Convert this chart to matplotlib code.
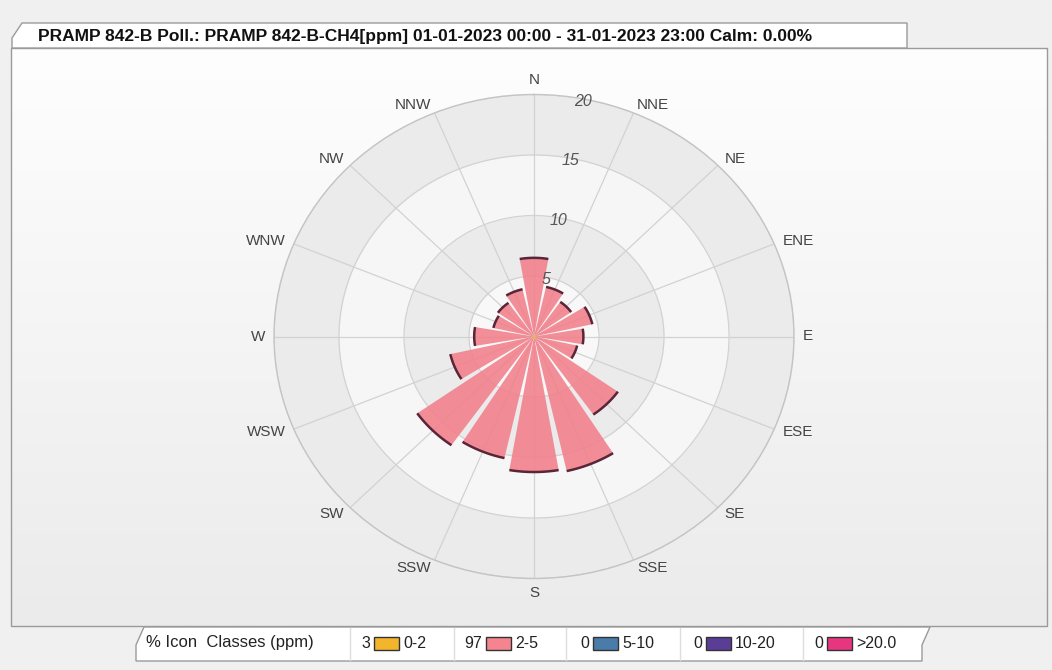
import numpy as np
import matplotlib
matplotlib.use("Agg")
import matplotlib.pyplot as plt
from matplotlib.patches import Polygon, Rectangle
from matplotlib.colors import LinearSegmentedColormap

# ---------------- data ----------------
directions = ['N', 'NNE', 'NE', 'ENE', 'E', 'ESE', 'SE', 'SSE',
              'S', 'SSW', 'SW', 'WSW', 'W', 'WNW', 'NW', 'NNW']
dir_degrees = [0, 22.5, 45, 67.5, 90, 112.5, 135, 157.5,
               180, 202.5, 225, 247.5, 270, 292.5, 315, 337.5]
class_0_2 = [0.20, 0.15, 0.15, 0.20, 0.15, 0.15, 0.20, 0.25,
             0.25, 0.20, 0.20, 0.20, 0.15, 0.15, 0.15, 0.20]
class_2_5 = [6.30, 4.05, 3.35, 4.40, 3.65, 3.25, 7.70, 11.15,
             10.95, 10.10, 10.80, 6.40, 4.45, 3.05, 3.25, 3.80]
ring_values = [5, 10, 15, 20]

legend_pct = ['3', '97', '0', '0', '0']
legend_classes = ['0-2', '2-5', '5-10', '10-20', '>20.0']
legend_colors = ['#f3b52c', '#f4848f', '#4b7ba8', '#5a3d96', '#e8357f']

title_text = "PRAMP 842-B Poll.: PRAMP 842-B-CH4[ppm] 01-01-2023 00:00 - 31-01-2023 23:00 Calm: 0.00%"

# ---------------- figure ----------------
W, H = 1052, 670
fig = plt.figure(figsize=(W / 100, H / 100), dpi=100, facecolor='#f0f0f0')

regular = ['Liberation Sans', 'DejaVu Sans']

# background / frame axes in pixel coords
bg = fig.add_axes([0, 0, 1, 1], zorder=0)
bg.set_xlim(0, W)
bg.set_ylim(H, 0)
bg.axis('off')

# panel with vertical gradient
cmap = LinearSegmentedColormap.from_list('panel', ['#fefefe', '#ebebeb'])
grad = np.linspace(0, 1, 256).reshape(-1, 1)
bg.imshow(grad, extent=(11, 1047, 626, 48), origin='upper', cmap=cmap,
          aspect='auto', zorder=0)
bg.add_patch(Rectangle((11, 48), 1036, 578, fill=False, ec='#9a9a9a', lw=1.0, zorder=1))

# title tab
tab = Polygon([(12, 48), (12, 38), (22, 23), (907, 23), (907, 48)], closed=True,
              fc='white', ec='#9a9a9a', lw=1.0, zorder=2)
bg.add_patch(tab)
bg.text(38, 36.5, title_text, fontsize=12.5, fontweight='bold', family=regular,
        ha='left', va='center', color='#111111', zorder=3)

# legend tab
ltab = Polygon([(136, 661), (136, 645), (144, 627), (930, 627), (922, 645), (922, 661)],
               closed=True, fc='white', ec='#9a9a9a', lw=1.0, zorder=2)
bg.add_patch(ltab)
bg.text(146, 643, '% Icon  Classes (ppm)', fontsize=12, family=regular,
        ha='left', va='center', color='#222222', zorder=3)
sep_x = [350, 454, 566, 680, 803]
for sx in sep_x:
    bg.plot([sx, sx], [628, 660], color='#dddddd', lw=1, zorder=3)
box_left = [374, 486, 593, 706, 827]
for bx, pct, lab, col in zip(box_left, legend_pct, legend_classes, legend_colors):
    bg.text(bx - 4, 643, pct, fontsize=11.5, family=regular, ha='right', va='center',
            color='#222222', zorder=3)
    bg.add_patch(Rectangle((bx, 637), 25, 13, fc=col, ec='#333333', lw=1.0, zorder=3))
    bg.text(bx + 29, 643, lab, fontsize=11.5, family=regular, ha='left', va='center',
            color='#222222', zorder=3)

# ---------------- polar rose ----------------
cx, cy, rx, ry = 534, 336.5, 260, 242
ax = fig.add_axes([(cx - rx) / W, (H - cy - ry) / H, 2 * rx / W, 2 * ry / H],
                  projection='polar', zorder=1)
ax.set_aspect('auto')
ax.patch.set_alpha(0)
ax.set_theta_zero_location('N')
ax.set_theta_direction(-1)
ax.set_ylim(0, 20)

theta_full = np.linspace(0, 2 * np.pi, 721)
band_colors = ['#f8f8f8', '#ebebeb', '#f6f6f6', '#ebebeb']
prev = 0
for rv, bc in zip(ring_values, band_colors):
    ax.fill_between(theta_full, prev, rv, color=bc, lw=0, zorder=0.1)
    prev = rv

theta = np.deg2rad(dir_degrees)
ax.set_xticks(theta)
ax.set_xticklabels([''] * len(theta))
ax.set_yticks(ring_values)
ax.set_yticklabels([''] * len(ring_values))
ax.grid(True, color='#d2d2d2', lw=0.9)
ax.tick_params(axis='x', direction='out', length=6, color='#aaaaaa', width=0.9)
ax.spines['polar'].set_color('#c4c4c4')
ax.spines['polar'].set_linewidth(1.0)

width = np.deg2rad(19.5)
ax.bar(theta, class_0_2, width=width, color='#f3a22a', edgecolor='none', zorder=2)
ax.bar(theta, class_2_5, width=width, bottom=class_0_2, color='#f27f8b',
       alpha=0.88, edgecolor='none', zorder=2)
for th, a, b in zip(theta, class_0_2, class_2_5):
    arc_t = np.linspace(th - width / 2, th + width / 2, 30)
    ax.plot(arc_t, np.full_like(arc_t, a + b), color='#5a2538', lw=1.8,
            solid_capstyle='butt', zorder=3)

# direction labels
for th, lab in zip(theta, directions):
    s = np.sin(th)
    if abs(s) < 0.01:
        ax.text(th, 21.2, lab, ha='center', va='center', fontsize=11,
                family=regular, color='#444444', clip_on=False)
    else:
        ax.text(th, 20.7, lab, ha='left' if s > 0 else 'right', va='center',
                fontsize=11, family=regular, color='#444444', clip_on=False)

# ring labels
for rv in ring_values:
    ax.text(np.deg2rad(11), rv - 0.2, str(rv), ha='center', va='center',
            fontsize=11.5, style='italic', family=regular, color='#555555', zorder=4)

fig.savefig('out.png', dpi=100, facecolor=fig.get_facecolor())
